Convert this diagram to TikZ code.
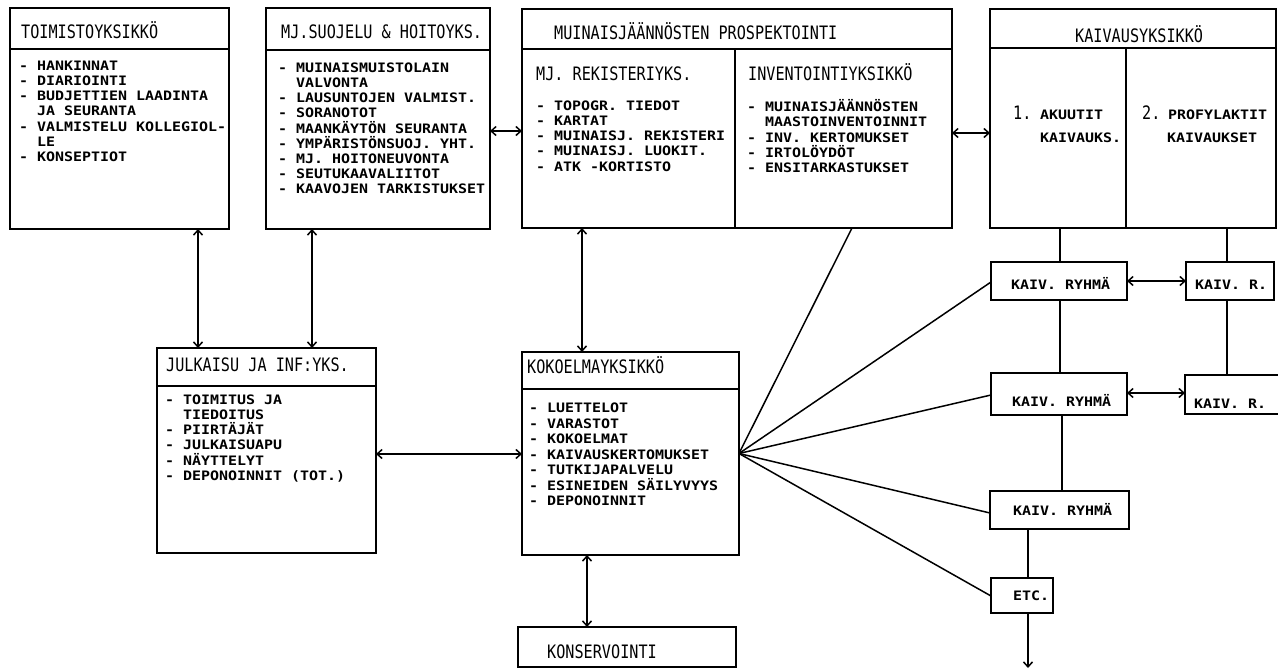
\documentclass[tikz,border=0pt]{standalone}
\usepackage{fontspec}
\usetikzlibrary{arrows.meta}
\newfontfamily\itemfam[FakeStretch=1.15]{DejaVu Sans Mono}
\newfontfamily\titlefam[FakeStretch=0.82]{DejaVu Sans Mono}
\newcommand\itf{\itemfam\bfseries\fontsize{13}{15.2}\selectfont}
\newcommand\itfk{\itemfam\bfseries\fontsize{13}{15.5}\selectfont}
\newcommand\ttf{\titlefam\fontsize{18.5}{22}\selectfont}
\newcommand\ind{\phantom{-~}}
\tikzset{
 box/.style={draw, line width=1.5pt, anchor=north west, inner sep=0pt, outer sep=0pt},
 ttl/.style={anchor=base west, inner sep=0pt, font=\ttf},
 itm/.style={anchor=north west, inner sep=0pt, align=left, font=\itf},
 lbl/.style={anchor=base west, inner sep=0pt, font=\itf},
 ln/.style={line width=1.5pt},
 arr/.style={line width=1.5pt, {Straight Barb[length=5pt,width=9pt]}-{Straight Barb[length=5pt,width=9pt]}},
 darr/.style={line width=1.5pt, -{Straight Barb[length=5pt,width=9pt]}},
}
\begin{document}
\begin{tikzpicture}[x=1pt,y=-1pt]
\useasboundingbox[fill=white] (0,0) rectangle (1278,669);
\clip (0,0) rectangle (1278,669);

% boxes
\node[box,minimum width=219pt,minimum height=221pt] (toim) at (10,8) {};
\node[box,minimum width=224pt,minimum height=221pt] (suoj) at (266,8) {};
\node[box,minimum width=430pt,minimum height=219pt] (pros) at (522,9) {};
\node[box,minimum width=286pt,minimum height=219pt] (kaiv) at (990,9) {};
\node[box,minimum width=219pt,minimum height=205pt] (julk) at (157,348) {};
\node[box,minimum width=217pt,minimum height=203pt] (koko) at (522,352) {};
\node[box,minimum width=218pt,minimum height=40pt] (kons) at (518,627) {};
\node[box,minimum width=136pt,minimum height=38pt] (kr1) at (991,262) {};
\node[box,minimum width=88pt,minimum height=38pt] (krr1) at (1186,262) {};
\node[box,minimum width=136pt,minimum height=42pt] (kr2) at (991,373) {};
\node[box,minimum width=120pt,minimum height=39pt] (krr2) at (1185,375) {};
\node[box,minimum width=139pt,minimum height=38pt] (kr3) at (990,491) {};
\node[box,minimum width=62pt,minimum height=35pt] (etc) at (991,578) {};

% header dividers
\coordinate (h1) at (0,49);
\coordinate (h2) at (0,50);
\coordinate (h3) at (0,48);
\coordinate (h4) at (0,386);
\coordinate (h5) at (0,389);
\coordinate (v1) at (735,0);
\coordinate (v2) at (1126,0);
\draw[ln] (toim.west |- h1) -- (toim.east |- h1);
\draw[ln] (suoj.west |- h2) -- (suoj.east |- h2);
\draw[ln] (pros.west |- h1) -- (pros.east |- h1);
\draw[ln] (v1 |- h1) -- (v1 |- pros.south);
\draw[ln] (kaiv.west |- h3) -- (kaiv.east |- h3);
\draw[ln] (v2 |- h3) -- (v2 |- kaiv.south);
\draw[ln] (julk.west |- h4) -- (julk.east |- h4);
\draw[ln] (koko.west |- h5) -- (koko.east |- h5);

% titles
\node[ttl] (t1) at (21,39) {TOIMISTOYKSIKKÖ};
\node[ttl] (t2) at (281,39) {MJ.SUOJELU \& HOITOYKS.};
\node[ttl] (t3) at (554,40) {MUINAISJÄÄNNÖSTEN PROSPEKTOINTI};
\node[ttl] (t4) at (1075,42.5) {KAIVAUSYKSIKKÖ};
\node[ttl] (t5) at (536,81) {MJ. REKISTERIYKS.};
\node[ttl] (t6) at (748,81) {INVENTOINTIYKSIKKÖ};
\node[ttl] (t7) at (166,371.5) {JULKAISU JA INF:YKS.};
\node[ttl] (t8) at (527,373) {KOKOELMAYKSIKKÖ};
\node[ttl] (t9) at (547,658) {KONSERVOINTI};
\node[ttl] (n1) at (1013,120) {1.};
\node[ttl] (n2) at (1142,120) {2.};

% item lists
\node[itm] (i1) at (19,59.4) {\strut- HANKINNAT\\- DIARIOINTI\\- BUDJETTIEN LAADINTA\\\ind JA SEURANTA\\- VALMISTELU KOLLEGIOL-\\\ind LE\\- KONSEPTIOT};
\node[itm] (i2) at (278,61.4) {\strut- MUINAISMUISTOLAIN\\\ind VALVONTA\\- LAUSUNTOJEN VALMIST.\\- SORANOTOT\\- MAANKÄYTÖN SEURANTA\\- YMPÄRISTÖNSUOJ. YHT.\\- MJ. HOITONEUVONTA\\- SEUTUKAAVALIITOT\\- KAAVOJEN TARKISTUKSET};
\node[itm] (i3) at (536,99.4) {\strut- TOPOGR. TIEDOT\\- KARTAT\\- MUINAISJ. REKISTERI\\- MUINAISJ. LUOKIT.\\- ATK -KORTISTO};
\node[itm] (i4) at (747,99.4) {\strut- MUINAISJÄÄNNÖSTEN\\\ind MAASTOINVENTOINNIT\\- INV. KERTOMUKSET\\- IRTOLÖYDÖT\\- ENSITARKASTUKSET};
\node[itm] (i5) at (165,393.4) {\strut- TOIMITUS JA\\\ind TIEDOITUS\\- PIIRTÄJÄT\\- JULKAISUAPU\\- NÄYTTELYT\\- DEPONOINNIT (TOT.)};
\node[itm,font=\itfk] (i6) at (529,401.6) {\strut- LUETTELOT\\- VARASTOT\\- KOKOELMAT\\- KAIVAUSKERTOMUKSET\\- TUTKIJAPALVELU\\- ESINEIDEN SÄILYVYYS\\- DEPONOINNIT};

% kaivaus labels
\node[lbl] (a1) at (1040,119.5) {AKUUTIT};
\node[lbl] (a2) at (1040,142.5) {KAIVAUKS.};
\node[lbl] (p1) at (1168,119.5) {PROFYLAKTIT};
\node[lbl] (p2) at (1167,142.5) {KAIVAUKSET};
\node[lbl] (l1) at (1011,289) {KAIV. RYHMÄ};
\node[lbl] (l2) at (1195,289) {KAIV. R.};
\node[lbl] (l3) at (1012,406.5) {KAIV. RYHMÄ};
\node[lbl] (l4) at (1194,408) {KAIV. R.};
\node[lbl] (l5) at (1013,515) {KAIV. RYHMÄ};
\node[lbl] (l6) at (1013,600) {ETC.};

% connector coordinates
\coordinate (x198) at (198,0);
\coordinate (x312) at (312,0);
\coordinate (x582) at (582,0);
\coordinate (x587) at (587,0);
\coordinate (x852) at (852,0);
\coordinate (x1060) at (1060,0);
\coordinate (x1062) at (1062,0);
\coordinate (x1028) at (1028,0);
\coordinate (x1227) at (1227,0);
\coordinate (y131) at (0,131);
\coordinate (y133) at (0,133);
\coordinate (y454) at (0,454);
\coordinate (y281) at (0,281);
\coordinate (y393) at (0,393);
\coordinate (y282) at (0,282);
\coordinate (y395) at (0,395);
\coordinate (y513) at (0,513);
\coordinate (y596) at (0,596);
\coordinate (down) at (1028,668);

% arrows
\draw[arr] (toim.south -| x198) -- (julk.north -| x198);
\draw[arr] (suoj.south -| x312) -- (julk.north -| x312);
\draw[arr] (suoj.east |- y131) -- (pros.west |- y131);
\draw[arr] (pros.east |- y133) -- (kaiv.west |- y133);
\draw[arr] (pros.south -| x582) -- (koko.north -| x582);
\draw[arr] (koko.south -| x587) -- (kons.north -| x587);
\draw[arr] (julk.east |- y454) -- (koko.west |- y454);
\draw[arr] (kr1.east |- y281) -- (krr1.west |- y281);
\draw[arr] (kr2.east |- y393) -- (krr2.west |- y393);

% tree lines
\draw[ln] (kaiv.south -| x1060) -- (kr1.north -| x1060);
\draw[ln] (kr1.south -| x1060) -- (kr2.north -| x1060);
\draw[ln] (kr2.south -| x1062) -- (kr3.north -| x1062);
\draw[ln] (kr3.south -| x1028) -- (etc.north -| x1028);
\draw[darr] (etc.south -| x1028) -- (down);
\draw[ln] (kaiv.south -| x1227) -- (krr1.north -| x1227);
\draw[ln] (krr1.south -| x1227) -- (krr2.north -| x1227);

% fan
\draw[ln] (koko.east) -- (pros.south -| x852);
\draw[ln] (koko.east) -- (kr1.west |- y282);
\draw[ln] (koko.east) -- (kr2.west |- y395);
\draw[ln] (koko.east) -- (kr3.west |- y513);
\draw[ln] (koko.east) -- (etc.west |- y596);
\end{tikzpicture}
\end{document}
